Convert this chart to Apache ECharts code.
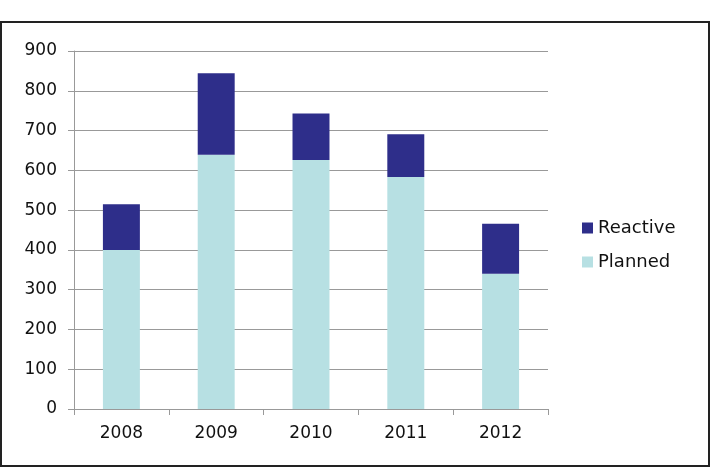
<!DOCTYPE html>
<html>
<head>
<meta charset="utf-8">
<script src="https://cdn.jsdelivr.net/npm/echarts@6/dist/echarts.min.js"></script>
<style>
html, body { margin: 0; padding: 0; background: #fff; }
#chart { width: 711px; height: 468px; }
</style>
</head>
<body>
<div id="chart"></div>
<script>
var years = ['2008', '2009', '2010', '2011', '2012'];
var planned = [400, 639, 626, 583, 340];
var reactive = [115, 205, 117, 108, 126];

var chart = echarts.init(document.getElementById('chart'));

var option = {
    animation: false,
    backgroundColor: '#fff',
    textStyle: { fontFamily: 'DejaVu Sans' },
    graphic: [{
        type: 'rect',
        shape: { x: 1, y: 22, width: 708, height: 444 },
        style: { fill: 'none', stroke: '#222', lineWidth: 2 }
    }],
    legend: {
        data: ['Reactive', 'Planned'],
        orient: 'vertical',
        left: 577,
        top: 214,
        itemWidth: 11,
        itemHeight: 11,
        itemGap: 16,
        icon: 'rect',
        textStyle: { fontSize: 18, color: '#111' }
    },
    grid: {
        left: 74,
        right: 163,
        top: 51,
        bottom: 59
    },
    xAxis: {
        type: 'category',
        data: years,
        axisLine: { lineStyle: { color: '#999', width: 1 } },
        axisTick: { show: true, length: 6, lineStyle: { color: '#999' } },
        axisLabel: { fontSize: 17, color: '#111', margin: 16 }
    },
    yAxis: {
        type: 'value',
        min: 0,
        max: 900,
        interval: 100,
        axisLine: { show: true, lineStyle: { color: '#999' } },
        axisTick: { show: true, length: 6, lineStyle: { color: '#999' } },
        splitLine: { lineStyle: { color: '#999', width: 1 } },
        axisLabel: { fontSize: 17, color: '#111', margin: 17 }
    },
    series: [
        {
            name: 'Planned',
            type: 'bar',
            stack: 'total',
            barWidth: '39%',
            itemStyle: { color: '#b7e0e3' },
            data: planned
        },
        {
            name: 'Reactive',
            type: 'bar',
            stack: 'total',
            itemStyle: { color: '#2e2e8a' },
            data: reactive
        }
    ]
};

chart.setOption(option);
</script>
</body>
</html>
